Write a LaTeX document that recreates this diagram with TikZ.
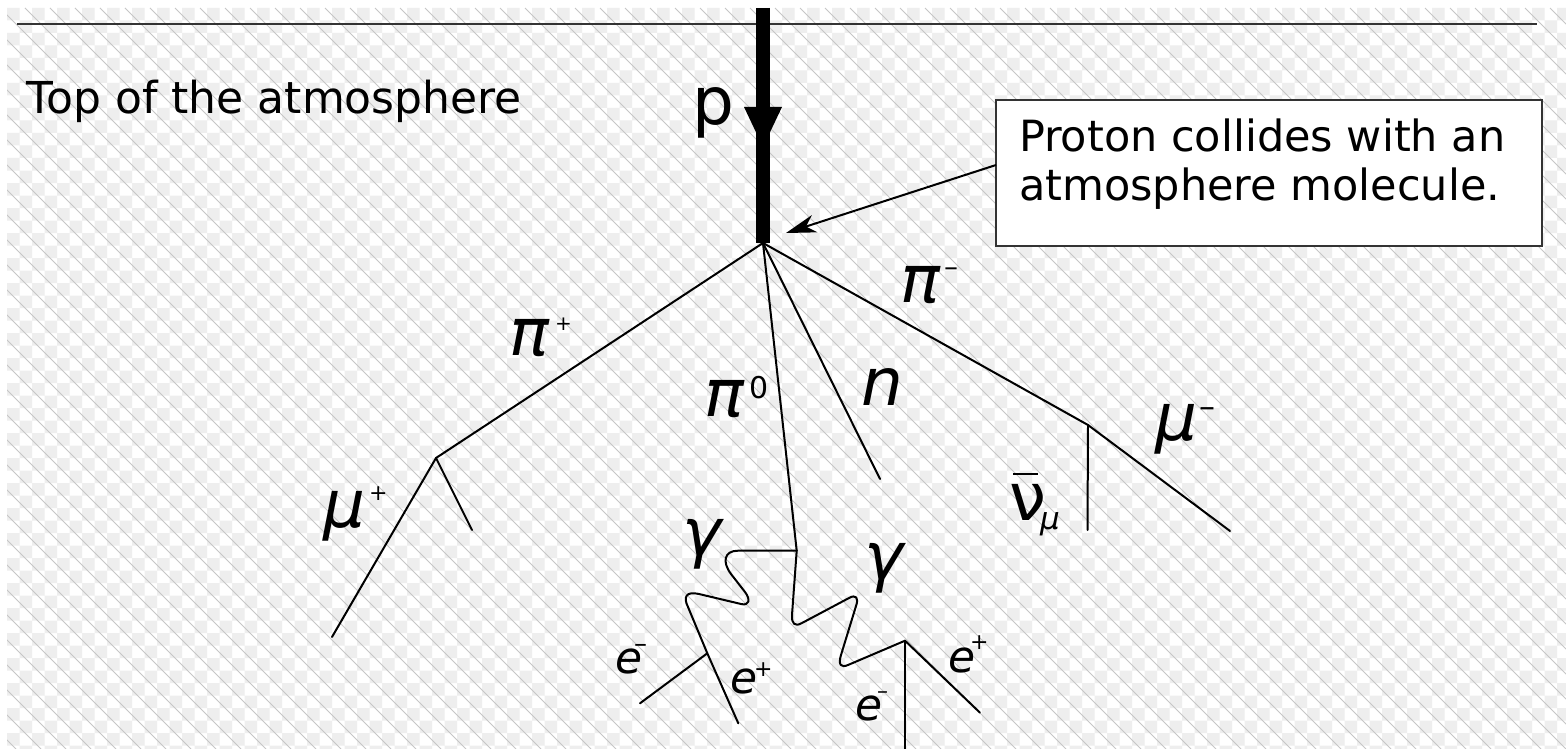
\documentclass[tikz,border=0pt]{standalone}
\usepackage{fontspec}
\setmainfont{DejaVu Sans}
\usetikzlibrary{arrows.meta}
\definecolor{hatch}{HTML}{C6C6C6}
\definecolor{chk}{HTML}{EEEEEE}
\definecolor{edge}{HTML}{333333}
\newcommand\fsL{\fontsize{66}{66}\selectfont}
\newcommand\fsE{\fontsize{44}{44}\selectfont}
\newcommand\fsT{\fontsize{44}{48}\selectfont}
\newcommand\fsB{\fontsize{43}{48}\selectfont}
\newcommand\sz[1]{\fontsize{#1}{#1}\selectfont}
\newcommand\wsup[4]{\makebox[0pt][l]{#1}\hspace*{#2pt}\raisebox{#3pt}{#4}}
\begin{document}
\begin{tikzpicture}[x=1pt,y=-1pt,
  particle/.style={line width=2pt, line join=round, line cap=round},
  lbl/.style={anchor=base west, inner sep=0pt, outer sep=0pt},
]
\useasboundingbox (0,0) rectangle (1566,749);
\fill[white] (0,0) rectangle (1566,749);
\begin{scope}
\clip (7,8) rectangle (1566,749);
\fill[chk] \foreach \i in {0,...,62}{ \foreach \j in {0,...,30}{ (7+\i*25, 8+\j*25) rectangle +(12.5,12.5) (19.5+\i*25, 20.5+\j*25) rectangle +(12.5,12.5) } };
\foreach \c in {-750,-725,...,1575} \draw[hatch, line width=0.8pt] (\c,8) -- ++(741,741);
\end{scope}
% top of atmosphere
\coordinate (tl) at (17,24); \coordinate (tr) at (1537,24);
\draw[edge, line width=2.5pt] (tl) -- (tr);
\node[lbl] (tlab) at (27,114) {\fsT Top of the atmosphere};
% proton
\coordinate (pin) at (763,8);
\coordinate (V) at (763,243);
\draw[line width=14pt] (pin) -- (V);
\fill (744,107) -- (782,107) -- (763,147) -- cycle;
\node[lbl] (plab) at (692,125) {\fsL p};
% box
\node[draw=edge, line width=2pt, fill=white, minimum width=546pt, minimum height=146pt, anchor=north west, inner sep=0pt] (box) at (995,99) {};
\node[lbl] (boxl1) at (1019,152) {\fsB Proton collides with an};
\node[lbl] (boxl2) at (1019,200) {\fsB atmosphere molecule.};
\coordinate (a0) at (996,165);
\coordinate (a1) at (786,233);
\draw[line width=2pt, -{Stealth[length=30pt,width=18pt,inset=9pt]}] (a0) -- (a1);
% particles
\coordinate (J1) at (436,458);
\coordinate (mup) at (332,637);
\coordinate (nup) at (472,530);
\coordinate (P0) at (796.7,550.7);
\coordinate (N) at (880,479);
\coordinate (J2) at (1088,425);
\coordinate (nub) at (1087.5,530);
\coordinate (mum) at (1230,531);
\coordinate (G1) at (707.3,653.3);
\coordinate (G2) at (905,640.7);
\coordinate (e1m) at (640,703.3);
\coordinate (e1p) at (738.3,723.3);
\coordinate (e2m) at (905,749);
\coordinate (e2p) at (980,712.7);
\draw[particle] (V) -- (J1) -- (mup);
\draw[particle] (J1) -- (nup);
\draw[particle] (V) -- (P0);
\draw[particle] (V) -- (N);
\draw[particle] (V) -- (J2) -- (mum);
\draw[particle] (J2) -- (nub);
\draw[particle] (P0) -- (738,550.7) .. controls (724,550.7) and (722,562) .. (731,574) -- (745,592) .. controls (751,600) and (749,606) .. (741,604) -- (699,594) .. controls (686,591) and (683,597) .. (688,607) -- (G1);
\draw[particle] (P0) -- (792,615) .. controls (791.5,624) and (795,627) .. (802,623) -- (849,598) .. controls (856,594) and (859,598) .. (856,606) -- (841,655) .. controls (838,665) and (841,668) .. (848,665) -- (G2);
\draw[particle] (G1) -- (e1m);
\draw[particle] (G1) -- (e1p);
\draw[particle] (G2) -- (e2m);
\draw[particle] (G2) -- (e2p);
% labels
\node[lbl] (pip) at (509,355) {\wsup{\fsL\itshape π}{46}{24.3}{\sz{20}+}};
\node[lbl] (pi0) at (704,416.7) {\wsup{\fsL\itshape π}{45}{18.7}{\sz{30}0}};
\node[lbl] (nlab) at (861,405) {\fsL\itshape n};
\node[lbl] (pim) at (900,302) {\wsup{\fsL\itshape π}{44}{25.2}{\sz{28}–}};
\node[lbl] (mumlab) at (1155,440) {\wsup{\fsL\itshape μ}{44}{22.5}{\sz{32}–}};
\node[lbl] (muplab) at (323,527) {\wsup{\fsL\itshape μ}{46}{26.6}{\sz{22}+}};
\node[lbl] (g1lab) at (682,555) {\fsL\itshape γ};
\node[lbl] (g2lab) at (864,579) {\fsL\itshape γ};
\node[lbl] (nulab) at (1009,520) {\makebox[0pt][l]{\hspace*{4pt}\raisebox{45pt}{\rule{25pt}{2.2pt}}}\wsup{\fsL ν}{31}{-9.5}{\sz{31}\itshape μ}};
\node[lbl] (em1) at (615,673) {\wsup{\fsE\itshape e}{19}{20.2}{\sz{26}–}};
\node[lbl] (ep1) at (730,693) {\wsup{\fsE\itshape e}{24}{16.6}{\sz{22}+}};
\node[lbl] (em2) at (855,720) {\wsup{\fsE\itshape e}{22}{21.8}{\sz{22}–}};
\node[lbl] (ep2) at (948,672) {\wsup{\fsE\itshape e}{22}{22.6}{\sz{22}+}};
\end{tikzpicture}
\end{document}
